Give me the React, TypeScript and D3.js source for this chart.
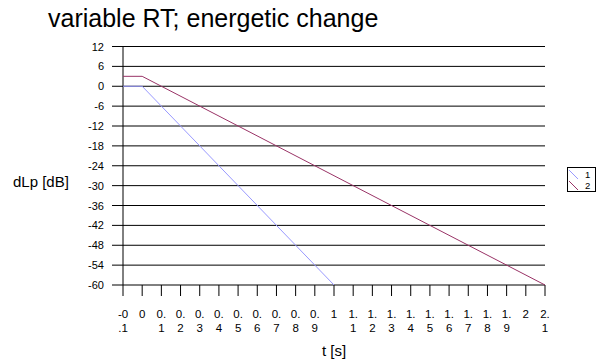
import React from "react";
import * as d3 from "d3";

const xTicks = [-0.1, 0, 0.1, 0.2, 0.3, 0.4, 0.5, 0.6, 0.7, 0.8, 0.9, 1, 1.1, 1.2, 1.3, 1.4, 1.5, 1.6, 1.7, 1.8, 1.9, 2, 2.1];
const yTicks = [12, 6, 0, -6, -12, -18, -24, -30, -36, -42, -48, -54, -60];
const series1T = [-0.1, 0, 1];
const series1V = [0, 0, -60];
const series2T = [-0.1, 0, 2.1];
const series2V = [3, 3, -60];
const seriesNames = ["1", "2"];
const seriesColors = ["#9999ff", "#993366"];

const W = 600;
const H = 362;
const left = 123;
const right = 545;
const top = 46.5;
const bottom = 285;

function chunk(s: string): string[] {
  const out: string[] = [];
  for (let i = 0; i < s.length; i += 2) out.push(s.slice(i, i + 2));
  return out;
}

export default function App() {
  const x = d3.scaleLinear().domain([-0.1, 2.1]).range([left, right]);
  const y = d3.scaleLinear().domain([12, -60]).range([top, bottom]);
  const line = d3
    .line<[number, number]>()
    .x((d) => x(d[0]))
    .y((d) => y(d[1]));
  const s1: [number, number][] = series1T.map((t, i) => [t, series1V[i]]);
  const s2: [number, number][] = series2T.map((t, i) => [t, series2V[i]]);
  const font = "'Liberation Sans', Arial, sans-serif";
  const fmt = (v: number) => String(Math.round(v * 10) / 10);

  return (
    <svg
      width={W}
      height={H}
      style={{ position: "absolute", left: 0, top: 0, background: "#fff" }}
      fontFamily={font}
    >
      <text x={48} y={27} fontSize={25} fill="#000">
        variable RT; energetic change
      </text>
      {yTicks.map((v) => (
        <g key={v}>
          <line x1={112} x2={right} y1={y(v)} y2={y(v)} stroke="#000" strokeWidth={1} />
          <text x={104} y={y(v) + 4} fontSize={11} textAnchor="end" fill="#000">
            {v}
          </text>
        </g>
      ))}
      <line x1={left} x2={left} y1={top} y2={bottom} stroke="#000" strokeWidth={1} />
      {xTicks.map((t) => (
        <g key={t}>
          <line x1={x(t)} x2={x(t)} y1={bottom} y2={bottom + 11} stroke="#000" strokeWidth={1} />
          {chunk(fmt(t)).map((c, i) => (
            <text key={i} x={x(t)} y={318 + i * 14} fontSize={11.5} textAnchor="middle" fill="#000">
              {c}
            </text>
          ))}
        </g>
      ))}
      <path d={line(s1) || ""} fill="none" stroke={seriesColors[0]} strokeWidth={1} />
      <path d={line(s2) || ""} fill="none" stroke={seriesColors[1]} strokeWidth={1} />
      <text x={(left + right) / 2} y={356} fontSize={15} textAnchor="middle" fill="#000">
        t [s]
      </text>
      <text x={13} y={187} fontSize={15} fill="#000">
        dLp [dB]
      </text>
      <rect x={567.5} y={167.5} width={28} height={24} fill="#fff" stroke="#000" strokeWidth={1} />
      {seriesNames.map((n, i) => (
        <g key={n}>
          <line
            x1={569}
            y1={170 + i * 11}
            x2={578}
            y2={179 + i * 11}
            stroke={seriesColors[i]}
            strokeWidth={1}
          />
          <text x={585} y={178 + i * 11} fontSize={9.5} fill="#000">
            {n}
          </text>
        </g>
      ))}
    </svg>
  );
}
